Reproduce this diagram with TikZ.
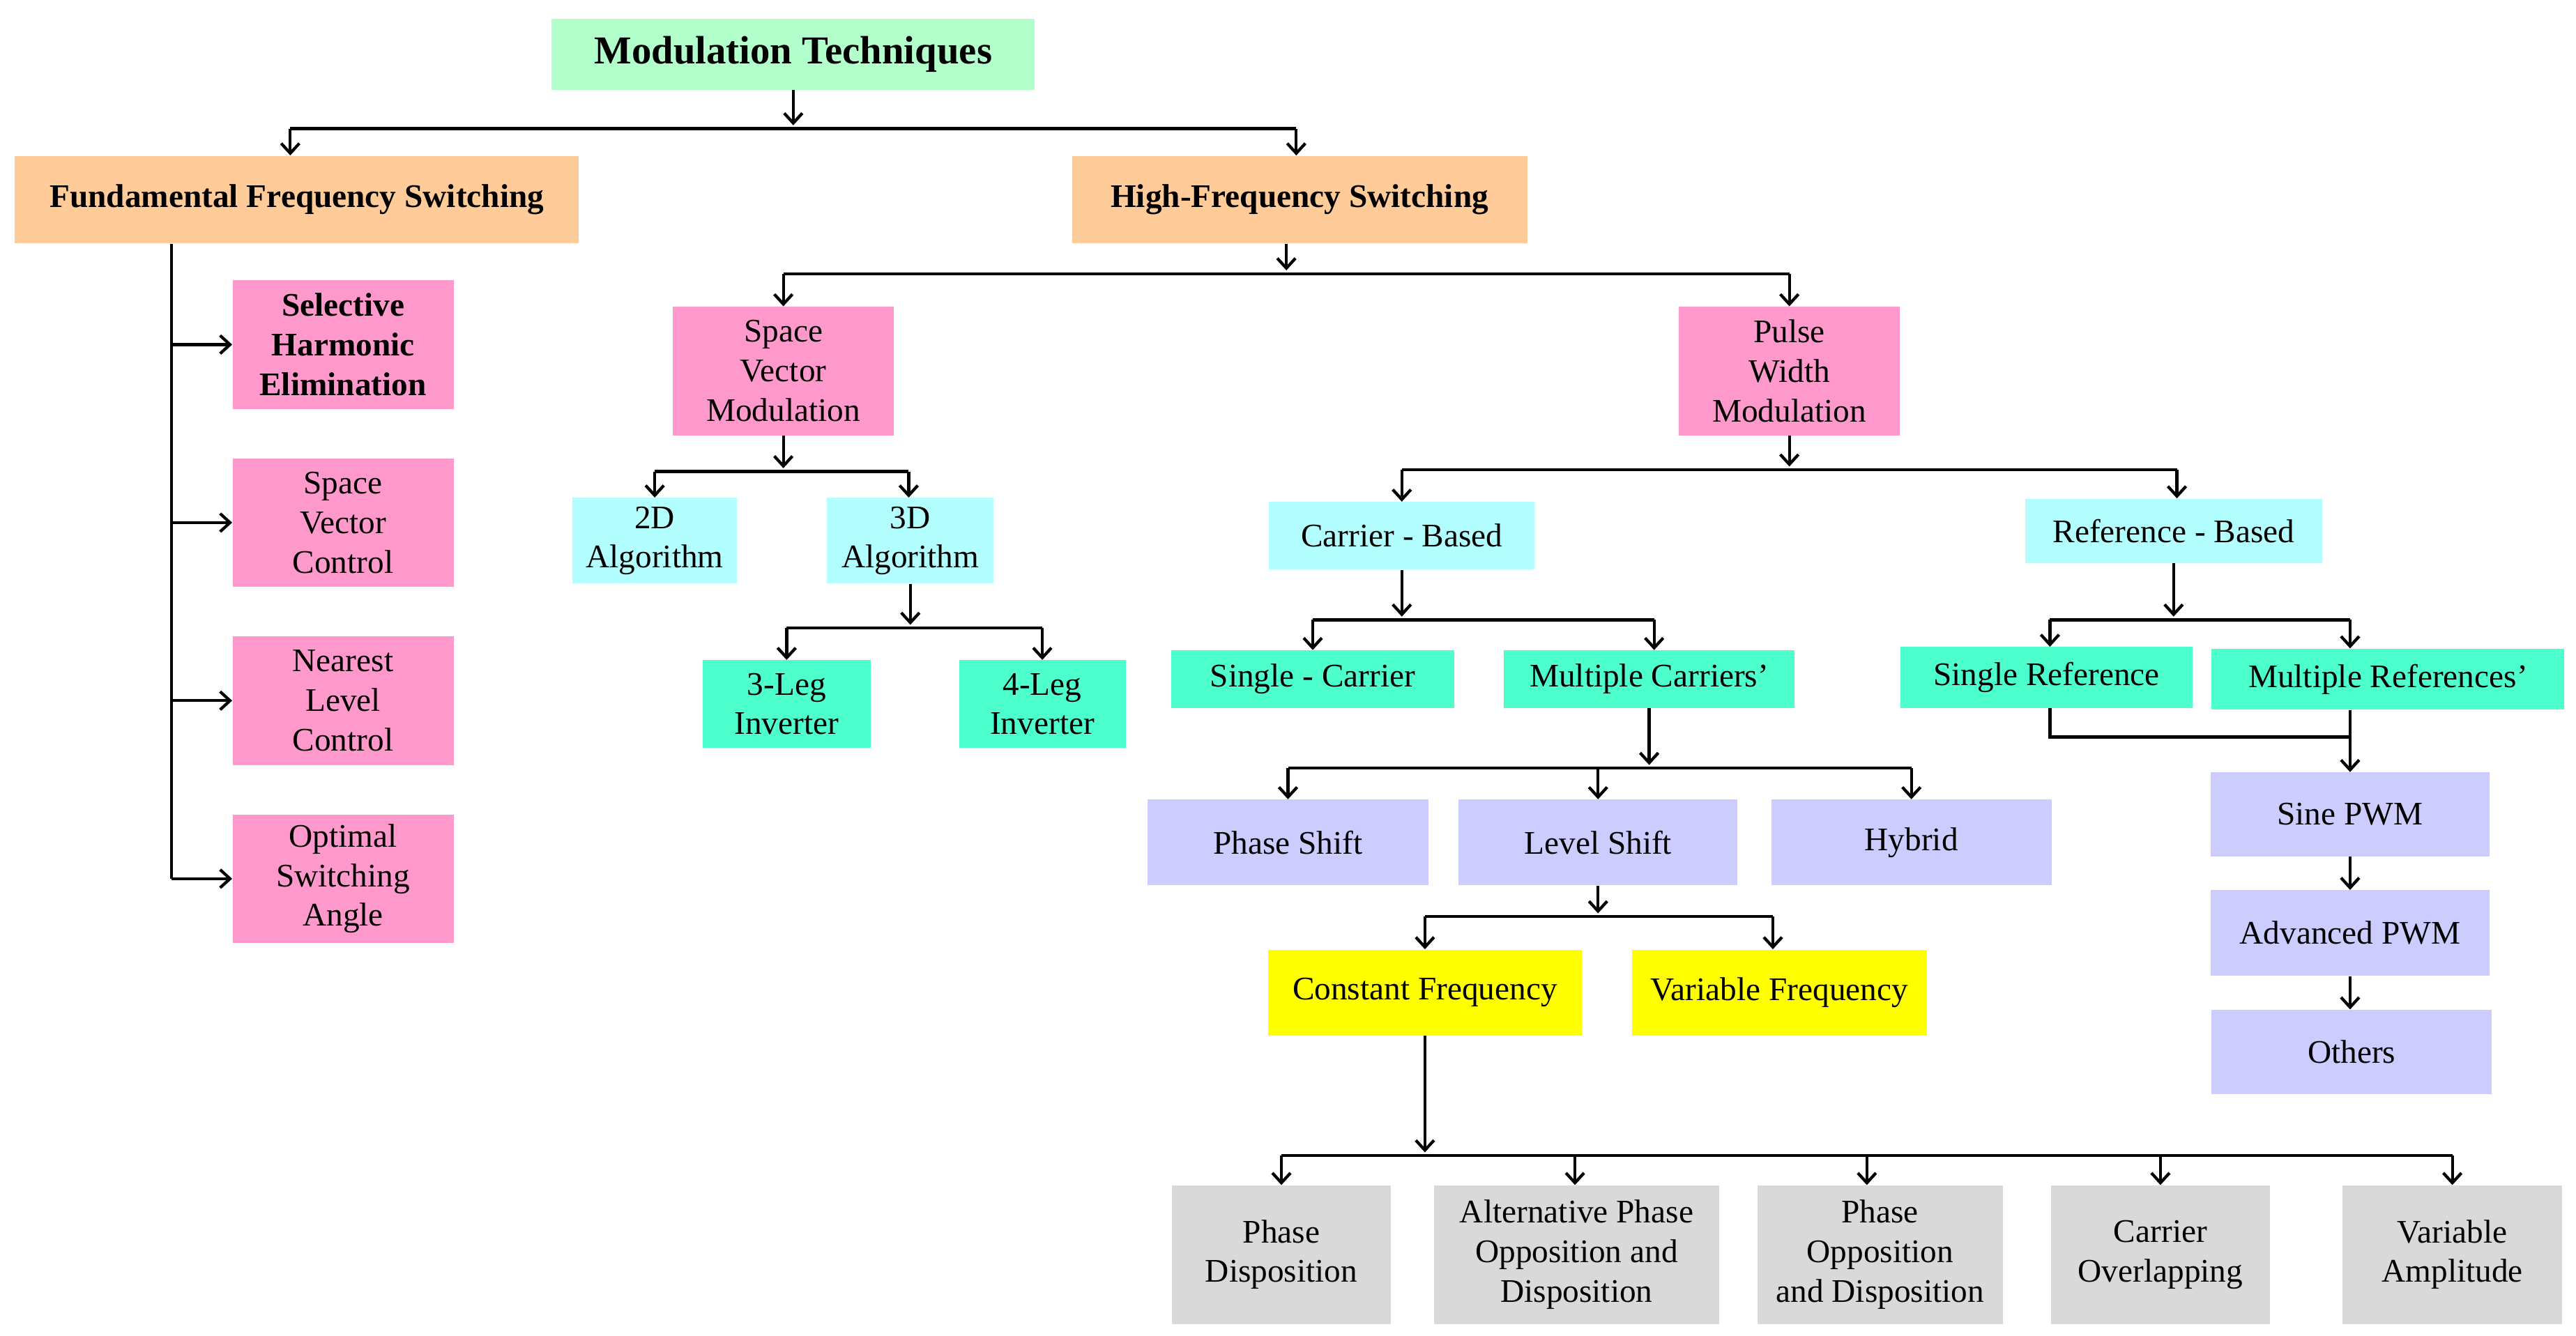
\documentclass[tikz,border=0pt]{standalone}
\usepackage{fontspec}
\setmainfont{Liberation Serif}
\usetikzlibrary{arrows.meta}
\definecolor{cg}{HTML}{B3FFCC}
\definecolor{co}{HTML}{FFCC99}
\definecolor{cp}{HTML}{FF99CC}
\definecolor{cc}{HTML}{B3FFFF}
\definecolor{ct}{HTML}{4DFFCC}
\definecolor{cl}{HTML}{CCCCFF}
\definecolor{cy}{HTML}{FFFF00}
\definecolor{cgr}{HTML}{D9D9D9}
\tikzset{
 bx/.style={draw=none,inner sep=0pt,align=center,font=\fontsize{20}{24}\selectfont},
 ar/.style={line width=1.8pt,-{Straight Barb[length=6pt,width=11pt,line width=1.8pt]}},
 ln/.style={line width=1.8pt},
}
\newcommand{\bxn}[7]{\node[bx,fill=#6,minimum width=#4pt,minimum height=#5pt] (#1) at (#2,#3) {#7};}
\begin{document}
\begin{tikzpicture}[x=1pt,y=-1pt]
\useasboundingbox (0,0) rectangle (1562,810);
\bxn{MT}{481}{33}{293}{43}{cg}{\fontsize{24}{28}\selectfont\bfseries Modulation Techniques}
\bxn{FFS}{180}{121}{342}{53}{co}{\bfseries Fundamental Frequency Switching}
\bxn{HFS}{788}{121}{276}{53}{co}{\bfseries High-Frequency Switching}
\bxn{SHE}{208}{209}{134}{78}{cp}{\bfseries Selective\\\bfseries Harmonic\\\bfseries Elimination}
\bxn{SVC}{208}{317}{134}{78}{cp}{Space\\Vector\\Control}
\bxn{NLC}{208}{425}{134}{78}{cp}{Nearest\\Level\\Control}
\bxn{OSA}{208}{533}{134}{78}{cp}{Optimal\\Switching\\Angle}
\bxn{SVM}{475}{225}{134}{78}{cp}{Space\\Vector\\Modulation}
\bxn{PWM}{1085}{225}{134}{78}{cp}{Pulse\\Width\\Modulation}
\bxn{D2}{397}{328}{100}{52}{cc}{2D\\Algorithm}
\bxn{D3}{552}{328}{101}{52}{cc}{3D\\Algorithm}
\bxn{L3}{477}{427}{102}{53}{ct}{3-Leg\\Inverter}
\bxn{L4}{632}{427}{101}{53}{ct}{4-Leg\\Inverter}
\bxn{CB}{850}{325}{161}{41}{cc}{Carrier - Based}
\bxn{RB}{1318}{322}{180}{39}{cc}{Reference - Based}
\bxn{SC}{796}{412}{172}{35}{ct}{Single - Carrier}
\bxn{MC}{1000}{412}{176}{35}{ct}{Multiple Carriers'}
\bxn{SR}{1241}{411}{177}{37}{ct}{Single Reference}
\bxn{MR}{1448}{412}{214}{37}{ct}{Multiple References'}
\bxn{SP}{1425}{494}{169}{51}{cl}{Sine PWM}
\bxn{AP}{1425}{566}{169}{52}{cl}{Advanced PWM}
\bxn{OT}{1426}{638}{170}{51}{cl}{Others}
\bxn{PS}{781}{511}{170}{52}{cl}{Phase Shift}
\bxn{LS}{969}{511}{169}{52}{cl}{Level Shift}
\bxn{HY}{1159}{511}{170}{52}{cl}{Hybrid}
\bxn{CF}{864}{602}{190}{52}{cy}{Constant Frequency}
\bxn{VF}{1079}{602}{179}{52}{cy}{Variable Frequency}
\bxn{PD}{777}{761}{133}{84}{cgr}{Phase\\Disposition}
\bxn{APOD}{956}{761}{173}{84}{cgr}{Alternative Phase\\Opposition and\\Disposition}
\bxn{POD}{1140}{761}{149}{84}{cgr}{Phase\\Opposition\\and Disposition}
\bxn{CO}{1310}{761}{133}{84}{cgr}{Carrier\\Overlapping}
\bxn{VA}{1487}{761}{133}{84}{cgr}{Variable\\Amplitude}
% MT
\draw[ar] (MT.south) -- (481,76);
\draw[ln] (176,78) -- (786,78);
\draw[ar] (176,78) -- (FFS.north -| 176,0);
\draw[ar] (786,78) -- (HFS.north -| 786,0);
% FFS
\coordinate (f0) at (104,148);
\draw[ln] (f0) -- (104,533);
\foreach \n in {SHE,SVC,NLC,OSA}{\draw[ar] (104,0 |- \n.west) -- (\n.west);}
% HFS
\draw[ar] (780,148) -- (780,164);
\draw[ln] (475,166) -- (1085,166);
\draw[ar] (475,166) -- (SVM.north);
\draw[ar] (1085,166) -- (PWM.north);
% SVM
\draw[ar] (SVM.south) -- (475,284);
\draw[ln] (397,286) -- (551,286);
\draw[ar] (397,286) -- (D2.north);
\draw[ar] (551,286) -- (D3.north -| 551,0);
% 3D
\draw[ar] (D3.south) -- (552,379);
\draw[ln] (477,381) -- (632,381);
\draw[ar] (477,381) -- (L3.north);
\draw[ar] (632,381) -- (L4.north);
% PWM
\draw[ar] (PWM.south) -- (1085,283);
\draw[ln] (850,285) -- (1320,285);
\draw[ar] (850,285) -- (CB.north);
\draw[ar] (1320,285) -- (RB.north -| 1320,0);
% CB
\draw[ar] (CB.south) -- (850,374);
\draw[ln] (796,376) -- (1003,376);
\draw[ar] (796,376) -- (SC.north);
\draw[ar] (1003,376) -- (MC.north -| 1003,0);
% RB
\draw[ar] (RB.south) -- (1318,374);
\draw[ln] (1243,376) -- (1425,376);
\draw[ar] (1243,376) -- (SR.north -| 1243,0);
\draw[ar] (1425,376) -- (MR.north -| 1425,0);
\draw[ln] (SR.south -| 1243,0) -- (1243,447) -- (1425,447);
\draw[ar] (MR.south -| 1425,0) -- (SP.north);
\draw[ar] (SP.south) -- (AP.north);
\draw[ar] (AP.south) -- (OT.north -| 1425,0);
% MC
\draw[ar] (MC.south -| 1000,0) -- (1000,464);
\draw[ln] (781,466) -- (1159,466);
\draw[ar] (781,466) -- (PS.north);
\draw[ar] (969,466) -- (LS.north);
\draw[ar] (1159,466) -- (HY.north);
% LS
\draw[ar] (LS.south) -- (969,554);
\draw[ln] (864,556) -- (1075,556);
\draw[ar] (864,556) -- (CF.north);
\draw[ar] (1075,556) -- (VF.north -| 1075,0);
% CF
\draw[ar] (CF.south) -- (864,699);
\draw[ln] (777,701) -- (1487,701);
\draw[ar] (777,701) -- (PD.north);
\draw[ar] (955,701) -- (APOD.north -| 955,0);
\draw[ar] (1132,701) -- (POD.north -| 1132,0);
\draw[ar] (1310,701) -- (CO.north);
\draw[ar] (1487,701) -- (VA.north);
\end{tikzpicture}
\end{document}
